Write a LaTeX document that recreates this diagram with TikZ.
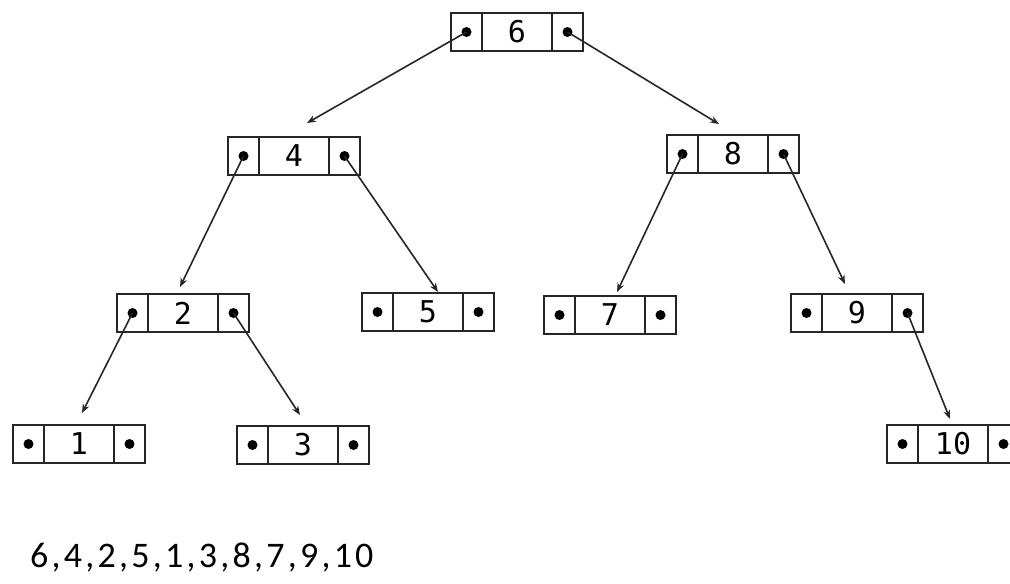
\documentclass[tikz,border=0pt]{standalone}
\usepackage{fontspec}
\setmainfont{Carlito}
\newfontfamily\keyfont{DejaVu Sans Mono}
\newfontfamily\seqfont[LetterSpace=9]{Carlito}
\usetikzlibrary{positioning,arrows.meta}

\begin{document}
\begin{tikzpicture}[x=1pt,y=-1pt,>={Stealth[length=9pt,width=7pt]},
  key/.style={draw=black!85,line width=2.2pt,minimum width=70pt,minimum height=38pt,
    inner sep=0pt,outer sep=0pt,font=\keyfont\fontsize{30}{30}\selectfont},
  ptr/.style={draw=black!85,line width=2.2pt,minimum width=31pt,minimum height=38pt,
    inner sep=0pt,outer sep=0pt},
  link/.style={->,line width=1.6pt,black!85}]
	\useasboundingbox (0,0) rectangle (1010,584);
	% tree nodes: pointer | key | pointer
	\foreach \k/\x/\y in {6/517/32,4/294/156,8/733/154,2/183/313,5/428/312,
	                      7/610/315,9/857/313,1/79/444,3/303/445,10/953/444}{
		\node[key] (n\k) at (\x,\y) {\k};
		\node[ptr,left=0pt of n\k] (l\k) {};
		\node[ptr,right=0pt of n\k] (r\k) {};
		\fill (l\k.center) circle[radius=5pt];
		\fill (r\k.center) circle[radius=5pt];
	}
	% links
	\draw[link] (l6.center) -- ([xshift=13pt,yshift=14pt]n4.north);
	\draw[link] (r6.center) -- ([xshift=-14pt,yshift=11pt]n8.north);
	\draw[link] (l4.center) -- ([xshift=-3pt,yshift=7pt]n2.north);
	\draw[link] (r4.center) -- ([xshift=10pt,yshift=1pt]n5.north);
	\draw[link] (l8.center) -- ([xshift=7pt,yshift=4pt]n7.north);
	\draw[link] (r8.center) -- ([xshift=-12pt,yshift=10pt]n9.north);
	\draw[link] (l2.center) -- ([xshift=3pt,yshift=12pt]n1.north);
	\draw[link] (r2.center) -- ([xshift=-3pt,yshift=11pt]n3.north);
	\draw[link] (r9.center) -- ([xshift=-3pt,yshift=6pt]n10.north);
	% preorder
	\node[anchor=base west,inner sep=0pt,
	      font=\seqfont\fontsize{36}{36}\selectfont] (order) at (30,567) {6,4,2,5,1,3,8,7,9,10};
\end{tikzpicture}
\end{document}
